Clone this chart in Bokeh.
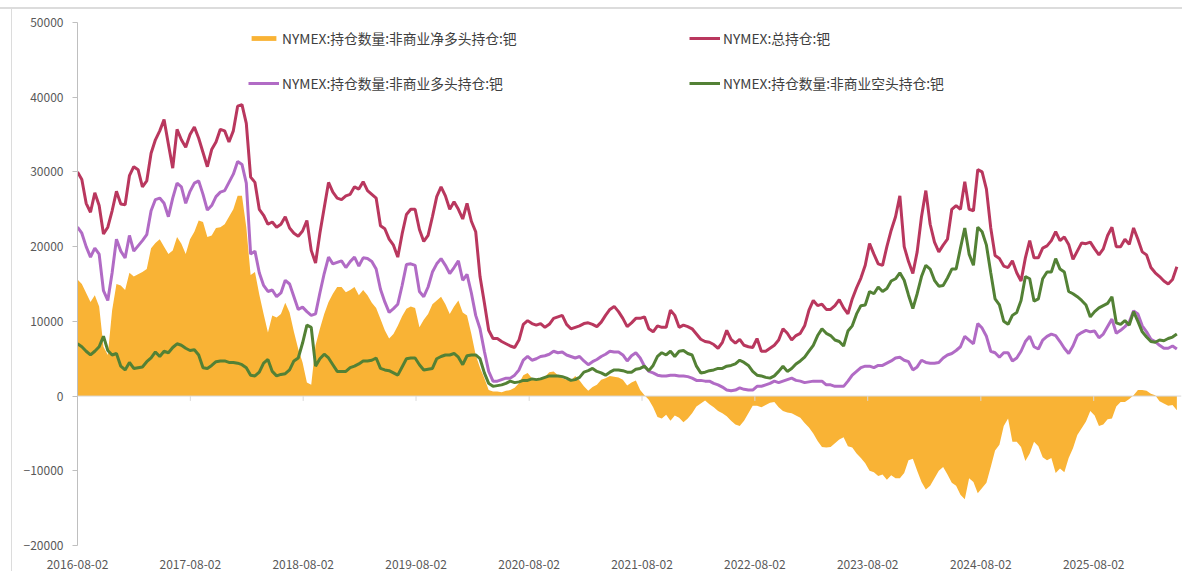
import pandas as pd
from bokeh.plotting import figure
from bokeh.models import (FixedTicker, DatetimeTickFormatter, Legend, LegendItem,
                          Span, ColumnDataSource)
from bokeh.embed import file_html
from bokeh.resources import INLINE

# ---------------- data (biweekly) ----------------
start_date = "2016-08-02"

total = [
    30000, 29000, 25800, 24600, 27200, 25500, 21700, 22600, 24800, 27400,
    25700, 25600, 29500, 30700, 30300, 28000, 28800, 32500, 34300, 35500,
    37000, 33700, 30500, 35700, 34300, 33300, 35000, 36000, 34500, 32600,
    30700, 33000, 34000, 35700, 35500, 34000, 35500, 38800, 39000, 36500,
    29300, 28600, 25000, 24200, 23000, 23300, 22600, 23000, 24000, 22500,
    21800, 21400, 22100, 23500, 19500, 17800, 21800, 25200, 28600, 27300,
    26500, 26300, 26800, 27000, 28000, 27700, 28700, 27500, 27000, 26500,
    22800, 22400, 21000, 20200, 18600, 21700, 24300, 25000, 25000, 22300,
    20700, 21500, 24000, 26700, 28000, 26800, 25000, 26000, 25000, 23700,
    25800, 23400, 22000, 16000, 12500, 8800, 7700, 7700, 7300, 7000,
    6700, 6500, 7500, 9600, 10100, 9700, 9500, 9700, 9200, 9600,
    10400, 10600, 10800, 9600, 9000, 9200, 9400, 9700, 9800, 9600,
    9300, 9900, 10800, 11600, 12000, 11300, 10400, 9300, 9800, 10400,
    10400, 10600, 9000, 8600, 9400, 9200, 9200, 11500, 10800, 9200,
    9500, 9300, 9000, 8300, 7600, 7300, 7200, 6900, 6400, 7200,
    8800, 7600, 7100, 7600, 6800, 6600, 6500, 7700, 6000, 6000,
    6400, 6800, 7500, 9000, 8400, 7500, 8100, 8400, 9400, 11500,
    12800, 12100, 12300, 11600, 11600, 12100, 12900, 11800, 11000, 13000,
    14500, 15800, 17500, 20400, 19000, 17700, 17500, 20000, 22200, 24000,
    26800, 20000, 18000, 16400, 19300, 24000, 27500, 23000, 20600, 19300,
    20200, 21000, 25000, 25500, 25000, 28700, 25000, 24800, 30300, 30000,
    27700, 22500, 18800, 18400, 17400, 17200, 18100, 16500, 15400, 18500,
    20800, 18500, 18500, 19800, 20100, 20800, 22000, 20800, 21300, 20300,
    18300, 19400, 20500, 20400, 20600, 19700, 18900, 19700, 21500, 22600,
    20000, 20000, 21000, 20300, 22500, 21000, 19300, 18900, 17200, 16500,
    16000, 15400, 15000, 15600, 17300,
]

long_pos = [
    22600, 21800, 20000, 18600, 19800, 19000, 14100, 12800, 16500, 21000,
    19400, 18500, 21500, 19400, 20100, 20800, 21600, 24800, 26300, 26500,
    25800, 24000, 26500, 28500, 28000, 25800, 27400, 28500, 28800, 27000,
    24900, 25500, 26700, 27300, 27500, 28600, 29700, 31400, 31000, 28500,
    19000, 19400, 16500, 14800, 14000, 14200, 13300, 13800, 15500, 15000,
    13300, 11600, 11900, 11300, 10800, 11000, 13800, 16400, 18600, 17700,
    17900, 18100, 17200, 18000, 18600, 17400, 18500, 18400, 18000, 17000,
    14300, 12600, 11200, 11700, 12300, 14800, 17600, 17700, 17500, 14000,
    13300, 14600, 16600, 17700, 18400, 17500, 16400, 17200, 18100, 15500,
    16300, 13800, 10800, 9000, 6000, 3300, 2000, 2000, 2200, 2400,
    2400, 2800, 3500, 4800, 5300, 4800, 5000, 5300, 5400, 5600,
    6000, 5800, 5900, 5500, 5300, 5100, 5300, 4700, 4200, 4600,
    4900, 5300, 5600, 6000, 5900, 5900, 5500, 4700, 5400, 5800,
    5100, 4000, 3300, 3100, 2800, 2700, 2700, 2800, 2800, 2700,
    2700, 2600, 2400, 2100, 2100, 2000, 2000, 1700, 1500, 1200,
    800, 700, 800, 1100, 900, 800, 800, 1300, 1300, 1500,
    1700, 2000, 1800, 2000, 2200, 2400, 2100, 2000, 1800, 1900,
    2000, 2000, 2000, 1500, 1500, 1300, 1300, 1300, 2000, 2800,
    3300, 3800, 4000, 4000, 3800, 4100, 4100, 4400, 4700, 5100,
    5200, 4800, 4600, 3500, 3900, 4800, 4500, 4400, 4400, 4500,
    5100, 5500, 5700, 6100, 6600, 8000, 7500, 7000, 9700, 9100,
    8000, 6000, 5800, 5200, 5800, 5800, 4700, 5100, 6000, 7300,
    8000, 6600, 6300, 7500, 8000, 8300, 8100, 7300, 6400, 5700,
    6700, 8100, 8500, 8800, 8600, 8700, 7800, 8300, 9300, 10300,
    8400, 8800, 9300, 9900, 11400, 11000, 9400, 8600, 7600, 7300,
    6800, 6400, 6400, 6700, 6300,
]

short_pos = [
    7000, 6600, 6000, 5500, 6000, 6600, 8000, 6100, 5500, 5700,
    4000, 3500, 4500, 3700, 3800, 3900, 4600, 5100, 5900, 5300,
    6000, 5800, 6500, 7000, 6800, 6400, 6100, 6200, 5500, 3800,
    3700, 4100, 4600, 4700, 4700, 4500, 4500, 4400, 4200, 3800,
    2800, 2700, 3200, 4400, 4900, 3300, 2700, 2900, 3000, 3500,
    4700, 5100, 7100, 9500, 9200, 4000, 5000, 5600, 5100, 4200,
    3300, 3300, 3300, 3800, 4000, 4300, 4700, 4700, 4800, 5100,
    3700, 3500, 3400, 3100, 2800, 3900, 5000, 5100, 5100, 4200,
    3500, 3600, 3700, 5000, 5300, 5500, 5500, 5700, 5200, 4200,
    5400, 5500, 5500, 5000, 3100, 1700, 1300, 1400, 1500, 1700,
    2000, 1800, 1900, 2100, 2100, 2300, 2200, 2300, 2500, 2700,
    2700, 2700, 2600, 2400, 2100, 2200, 2500, 3200, 3400, 3700,
    3300, 3100, 2800, 3200, 3500, 3500, 3400, 3200, 3200, 3600,
    3700, 4000, 3400, 4100, 5300, 5800, 5500, 6000, 5300, 6000,
    6100, 5700, 5500, 4000, 3100, 3200, 3400, 3500, 3700, 3700,
    4000, 4100, 4300, 4800, 4500, 4100, 3300, 2800, 2700, 2500,
    2400, 2700, 3300, 4000, 3300, 3700, 4300, 4700, 5200, 6000,
    6800, 8100, 9000, 8400, 8100, 7500, 7300, 6700, 8700, 9400,
    11000, 12100, 12200, 14000, 13700, 14600, 14000, 14400, 15400, 15700,
    16500, 15500, 13500, 11700, 13700, 16000, 17500, 17000, 15500, 14700,
    14800, 15800, 17000, 17000, 19800, 22500, 19000, 17500, 22600, 22000,
    20200, 16500, 13000, 12200, 10000, 9600, 10800, 11200, 12800, 16000,
    15700, 12700, 13000, 15700, 16600, 16600, 18400, 17000, 16600, 14000,
    13700, 13300, 12800, 12200, 10600, 11300, 11800, 12100, 12400, 13300,
    9800, 9600, 10100, 9500, 11300, 10000, 8600, 7900, 7300, 7200,
    7500, 7400, 7700, 7900, 8300,
]

net_pos = [
    15600, 15000, 13800, 12600, 13500, 12000, 6600, 5500, 11500, 15000,
    14800, 14200, 16500, 16000, 16300, 16600, 17000, 19800, 20500, 21000,
    20000, 19000, 19500, 21300, 20400, 19000, 21000, 22000, 23500, 23300,
    21300, 21500, 22500, 22600, 23000, 24000, 25000, 26800, 26800, 22600,
    16200, 16600, 13600, 11000, 8500, 10800, 10500, 11000, 12500, 11200,
    8600, 6300, 4500, 1800, 1500, 6800, 9000, 11000, 12600, 13700,
    14600, 14600, 13900, 14200, 14600, 13500, 14200, 13500, 12500, 11800,
    10300, 8800, 7700, 8300, 9400, 10700, 11700, 12000, 11800, 9200,
    10200, 11000, 12300, 12800, 13300, 12300, 11000, 12000, 12800, 11200,
    10800, 8300, 5500, 3800, 2400, 800, 600, 600, 500, 700,
    800, 1100, 1700, 2800, 3100, 2400, 2300, 2400, 2600, 3200,
    3300, 2800, 2400, 2200, 2100, 2700, 2100, 1300, 700, 1200,
    1500, 2200, 2400, 2700, 2600, 2500, 2200, 1400, 1800, 2100,
    800, 100, -500, -1500, -2800, -3000, -2500, -3300, -2600, -2900,
    -3500, -3000, -2300, -1400, -1000, -600, -1100, -1500, -2000, -2300,
    -2700, -3300, -3800, -4000, -3300, -2300, -1300, -1300, -1500, -1200,
    -900, -800, -1500, -2000, -2200, -2300, -2600, -2900, -3600, -4200,
    -5000, -6000, -6800, -6900, -6800, -6300, -5800, -5500, -6700, -6900,
    -7700, -8300, -9000, -10000, -10200, -10700, -10500, -11200, -10600, -11000,
    -11000, -10300, -8600, -8400, -10000, -11500, -12500, -12000, -11000, -10000,
    -9500, -10500, -11600, -12000, -13200, -13800, -11000, -11500, -13000, -12300,
    -11600, -9500, -7300, -6500, -4000, -3000, -6100, -6100, -6800, -8700,
    -7700, -6100, -6700, -8200, -8600, -8300, -10300, -9700, -10200, -8300,
    -7000, -5200, -4300, -3400, -2000, -2600, -4000, -3800, -3100, -3000,
    -1400, -800, -800, -400, 100, 800, 800, 700, 300, 100,
    -700, -1000, -1300, -1200, -1900,
]

x_tick_labels = ["2016-08-02", "2017-08-02", "2018-08-02", "2019-08-02", "2020-08-02",
                 "2021-08-02", "2022-08-02", "2023-08-02", "2024-08-02", "2025-08-02"]
y_ticks = [-20000, -10000, 0, 10000, 20000, 30000, 40000, 50000]

series_names = ["NYMEX:持仓数量:非商业净多头持仓:钯", "NYMEX:总持仓:钯",
                "NYMEX:持仓数量:非商业多头持仓:钯", "NYMEX:持仓数量:非商业空头持仓:钯"]

# ---------------- styling ----------------
ORANGE = "#F9B335"
RED = "#B9375E"
PURPLE = "#B16BC5"
GREEN = "#538135"
AXIS_GREY = "#BFBFBF"
TEXT_GREY = "#595959"
FRAME_GREY = "#DCDCDC"
FONT = "Noto Sans CJK SC"
ZERO_TICK_LEN = 650

dates = pd.date_range(start_date, periods=len(total), freq="14D")
src = ColumnDataSource(dict(date=dates, total=total, long=long_pos,
                            short=short_pos, net=net_pos))

p = figure(width=1182, height=571, x_axis_type="datetime",
           output_backend="svg", toolbar_location=None,
           x_range=(dates[0], dates[-1] + pd.Timedelta(days=15)),
           y_range=(y_ticks[0], y_ticks[-1]),
           min_border_left=77, min_border_right=1,
           min_border_top=22, min_border_bottom=23)
p.outline_line_color = None
p.grid.visible = False
p.background_fill_color = "white"
# faint outer frame lines (top and left) of the original picture, drawn as
# a CSS background that shows through the transparent border area
p.border_fill_color = None
p.styles = {
    "background-color": "white",
    "background-image": f"linear-gradient({FRAME_GREY}, {FRAME_GREY}), "
                        f"linear-gradient({FRAME_GREY}, {FRAME_GREY})",
    "background-size": "100% 2px, 1px 100%",
    "background-position": "0px 7px, 11px 7px",
    "background-repeat": "no-repeat",
}

r_net = p.varea(x="date", y1=0, y2="net", source=src, fill_color=ORANGE)
p.add_layout(Span(location=0, dimension="width", line_color="#D9D9D9", line_width=1))
tick_dates = [pd.Timestamp(s) for s in x_tick_labels]
p.segment(x0=tick_dates, y0=[0] * len(tick_dates), x1=tick_dates,
          y1=[-ZERO_TICK_LEN] * len(tick_dates), line_color="#D9D9D9", line_width=1)
r_total = p.line(x="date", y="total", source=src, line_color=RED, line_width=3)
r_long = p.line(x="date", y="long", source=src, line_color=PURPLE, line_width=3)
r_short = p.line(x="date", y="short", source=src, line_color=GREEN, line_width=3)

# axes
p.xaxis.ticker = FixedTicker(ticks=[t.value / 1e6 for t in tick_dates])
fmt = "%Y-%m-%d"
p.xaxis.formatter = DatetimeTickFormatter(days=fmt, months=fmt, years=fmt)
p.xaxis.axis_line_color = None
p.xaxis.major_tick_line_color = None
p.xaxis.minor_tick_line_color = None
p.xaxis.major_label_standoff = 8
p.yaxis.ticker = FixedTicker(ticks=y_ticks)
p.yaxis.axis_line_color = AXIS_GREY
p.yaxis.major_tick_line_color = AXIS_GREY
p.yaxis.major_tick_out = 5
p.yaxis.major_tick_in = 0
p.yaxis.minor_tick_line_color = None
p.yaxis.major_label_standoff = 9
for ax in (p.xaxis, p.yaxis):
    ax.major_label_text_font = FONT
    ax.major_label_text_font_size = "12px"
    ax.major_label_text_color = TEXT_GREY

def make_legend(items, loc):
    lg = Legend(items=items, location=loc, orientation="vertical")
    lg.border_line_color = None
    lg.background_fill_alpha = 0
    lg.padding = 0
    lg.margin = 0
    lg.spacing = 25
    lg.label_height = 20
    lg.glyph_height = 6
    lg.glyph_width = 31
    lg.label_standoff = 3
    lg.label_text_font = FONT
    lg.label_text_font_size = "13.75px"
    lg.label_text_color = "#404040"
    return lg

leg1 = make_legend([LegendItem(label=series_names[0], renderers=[r_net]),
                    LegendItem(label=series_names[2], renderers=[r_long])], (171, 452))
leg2 = make_legend([LegendItem(label=series_names[1], renderers=[r_total]),
                    LegendItem(label=series_names[3], renderers=[r_short])], (612, 452))
p.add_layout(leg1)
p.add_layout(leg2)

open("out.html", "w").write(file_html(p, INLINE))
